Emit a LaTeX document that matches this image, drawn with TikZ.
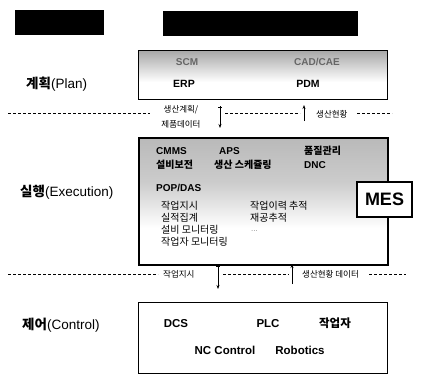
\documentclass[tikz,border=0pt]{standalone}
\usepackage{fontspec}
\setmainfont{Liberation Sans}
\newfontfamily\kr{Noto Sans CJK KR}
\usetikzlibrary{arrows.meta,calc}
\begin{document}
\begin{tikzpicture}[x=1pt,y=-1pt,
  hdr/.style={fill=black, draw=black, inner sep=0pt, anchor=north west},
  layer/.style={font=\fontsize{13.5}{15}\selectfont, inner sep=0pt, anchor=west},
  item/.style={font=\kr\fontsize{10}{11}\selectfont, inner sep=0pt, anchor=west},
  bitem/.style={font=\bfseries\fontsize{10}{11}\selectfont, inner sep=0pt, anchor=west},
  bkr/.style={font=\kr\bfseries\fontsize{10}{11}\selectfont, inner sep=0pt, anchor=west},
  ctl/.style={font=\bfseries\fontsize{11.5}{13}\selectfont, inner sep=0pt},
  pl/.style={font=\bfseries\fontsize{10.5}{12}\selectfont, inner sep=0pt},
  flow/.style={font=\kr\fontsize{8.5}{10}\selectfont, inner sep=0pt, anchor=west},
  sep/.style={line width=0.5pt, dash pattern=on 2.5pt off 2.5pt},
  updown/.style={line width=0.7pt, -{Stealth[length=4pt,width=3pt]}},
  levelbox/.style={draw=black, inner sep=0pt, anchor=north west}
]
\useasboundingbox (0,0) rectangle (422,376);
\fill[white] (0,0) rectangle (422,376);

% header bars
\node[hdr, minimum width=88pt, minimum height=24pt] (h1) at (15,10) {};
\node[hdr, minimum width=194pt, minimum height=24pt] (h2) at (163,11) {};

% ---------- Plan ----------
\shade[top color=gray!70, bottom color=white] (138,50) rectangle (387,82);
\node[levelbox, line width=0.8pt, minimum width=249pt, minimum height=49pt] (plan) at (138,50) {};
\node[bitem, anchor=center, text=black!60] (scm) at (187,62) {SCM};
\node[bitem, anchor=center, text=black!60] (cad) at (317,62) {CAD/CAE};
\node[pl] (erp) at (184,84) {ERP};
\node[pl] (pdm) at (308,84) {PDM};
\node[layer] (lplan) at (26,84) {{\kr\bfseries 계획}(Plan)};

% ---------- separator 1 ----------
\coordinate (s1a) at (8,113);
\coordinate (s1b) at (150,113);
\coordinate (s1c) at (225,113);
\coordinate (s1d) at (300,113);
\coordinate (s1e) at (357,113);
\coordinate (s1f) at (392,113);
\draw[sep] (s1a) -- (s1b);
\draw[sep] (s1c) -- (s1d);
\draw[sep] (s1e) -- (s1f);
\node[flow, anchor=center] (f1a) at (181,110) {생산계획/};
\node[flow, anchor=center] (f1b) at (181,124) {제품데이터};
\node[flow] (f1c) at (316,114) {생산현황};
\coordinate (a1t) at (220,106);
\coordinate (a1b) at (220,128);
\draw[updown] (a1t) -- (a1b);
\draw[line width=0.7pt] ($(a1t)+(-2,1)$) -- ($(a1t)+(2,1)$);
\coordinate (a2b) at (304,121);
\coordinate (a2t) at (304,105);
\draw[updown] (a2b) -- (a2t);

% ---------- Execution ----------
\shade[top color=gray!55, bottom color=white, middle color=gray!40] (138,137) rectangle (387,228);
\node[levelbox, line width=1.6pt, minimum width=249pt, minimum height=127pt] (exec) at (138,137) {};
\node[bitem] (cmms) at (156,151) {CMMS};
\node[bkr] (eq) at (156,165) {설비보전};
\node[bitem] (aps) at (219,151) {APS};
\node[bkr] (sch) at (214,165) {생산 스케쥴링};
\node[bkr] (qm) at (304,151) {품질관리};
\node[bitem] (dnc) at (304,165) {DNC};
\node[bitem] (pop) at (156,188) {POP/DAS};
\node[item] (i1) at (161,206) {작업지시};
\node[item] (i2) at (161,218) {실적집계};
\node[item] (i3) at (161,230) {설비 모니터링};
\node[item] (i4) at (161,242) {작업자 모니터링};
\node[item] (i5) at (250,206) {작업이력 추적};
\node[item] (i6) at (250,218) {재공추적};
\node[font=\fontsize{8}{9}\selectfont, inner sep=0pt, anchor=west, text=black!45] (i7) at (251,231) {...};
\node[draw=black, fill=white, line width=1.6pt, minimum width=55pt, minimum height=35pt, inner sep=0pt, font=\bfseries\fontsize{18}{20}\selectfont] (mes) at (384.5,199.5) {MES};
\node[layer] (lexec) at (20,192) {{\kr\bfseries 실행}(Execution)};

% ---------- separator 2 ----------
\coordinate (s2a) at (8,274);
\coordinate (s2b) at (158,274);
\coordinate (s2c) at (223,274);
\coordinate (s2d) at (289,274);
\coordinate (s2e) at (369,274);
\coordinate (s2f) at (406,274);
\draw[sep] (s2a) -- (s2b);
\draw[sep] (s2c) -- (s2d);
\draw[sep] (s2e) -- (s2f);
\node[flow] (f2a) at (163,274) {작업지시};
\node[flow] (f2b) at (302,274) {생산현황 데이터};
\coordinate (a3t) at (218,265);
\coordinate (a3b) at (218,289);
\draw[updown] (a3t) -- (a3b);
\draw[line width=0.7pt] ($(a3t)+(-2,1)$) -- ($(a3t)+(2,1)$);
\coordinate (a4b) at (292,284);
\coordinate (a4t) at (292,264);
\draw[updown] (a4b) -- (a4t);

% ---------- Control ----------
\node[levelbox, line width=0.7pt, minimum width=249pt, minimum height=71pt] (ctrl) at (138,302) {};
\node[ctl] (dcs) at (176,324) {DCS};
\node[ctl] (plc) at (268,324) {PLC};
\node[ctl, font=\kr\bfseries\fontsize{11.5}{13}\selectfont] (wk) at (335,323) {작업자};
\node[ctl] (nc) at (225,350) {NC Control};
\node[ctl] (rb) at (300,350) {Robotics};
\node[layer] (lctrl) at (22,325) {{\kr\bfseries 제어}(Control)};
\end{tikzpicture}
\end{document}
